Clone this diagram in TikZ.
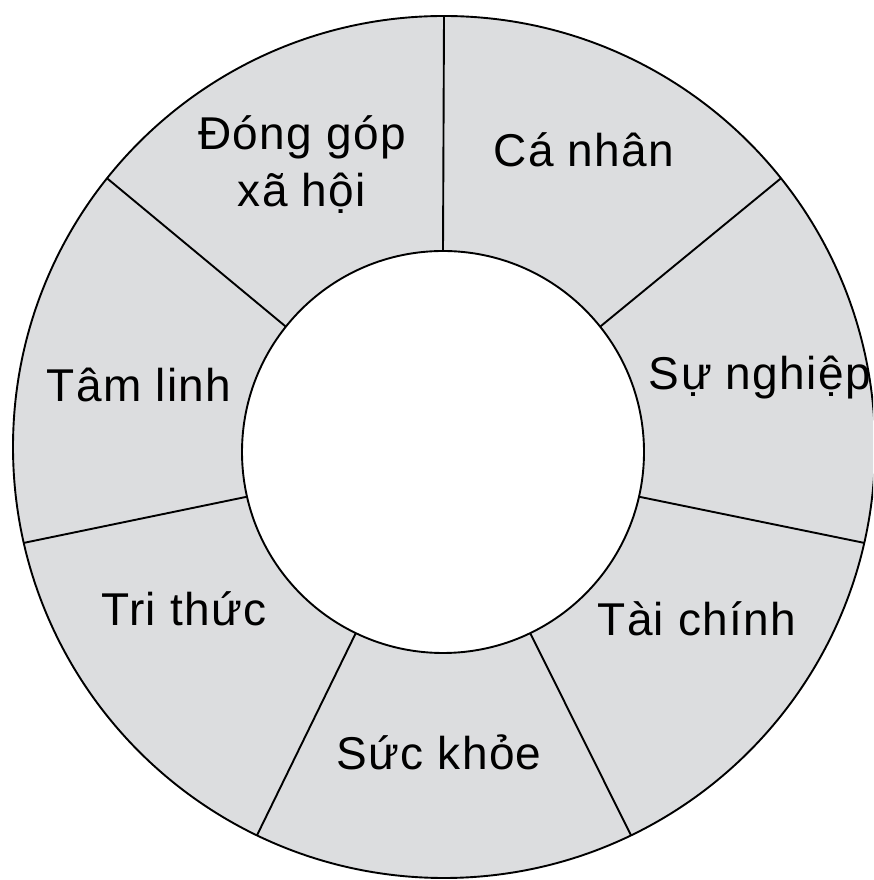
\documentclass[tikz,border=0pt]{standalone}
\usepackage{fontspec}
\setmainfont{Liberation Sans}[LetterSpace=3]
\usetikzlibrary{calc}
\begin{document}
\begin{tikzpicture}[x=1pt,y=1pt,
  ring/.style={draw=black,line width=1.9pt},
  lbl/.style={anchor=base,inner sep=0pt,font=\fontsize{46}{54}\selectfont,text=black},
  lbl2/.style={anchor=base,inner sep=0pt,align=center,font=\fontsize{46}{57}\selectfont,text=black}]
\useasboundingbox (0,0) rectangle (873,880);
\clip (0,0) rectangle (873,880);
\definecolor{segfill}{HTML}{DCDDDF}
\coordinate (oc) at (444,433);
\coordinate (ic) at (443,428);
\fill[white] (0,0) rectangle (873,880);
\draw[ring,fill=segfill] (oc) circle[radius=431];
\draw[ring,fill=white] (ic) circle[radius=201];
\foreach \a in {90,38.571,-12.857,-64.286,-115.714,-167.143,141.429}{
  \draw[ring] ($(ic)+(\a:201)$) -- ($(oc)+(\a:431)$);
}
\node[lbl2] (dong) at (302,673) {Đóng góp\\xã hội};
\node[lbl] (canhan) at (584,713) {Cá nhân};
\node[lbl] (sunghiep) at (760,490) {Sự nghiệp};
\node[lbl] (tamlinh) at (139,478) {Tâm linh};
\node[lbl] (trithuc) at (184,254) {Tri thức};
\node[lbl] (taichinh) at (697,244) {Tài chính};
\node[lbl] (suckhoe) at (439,110) {Sức khỏe};
\end{tikzpicture}
\end{document}
